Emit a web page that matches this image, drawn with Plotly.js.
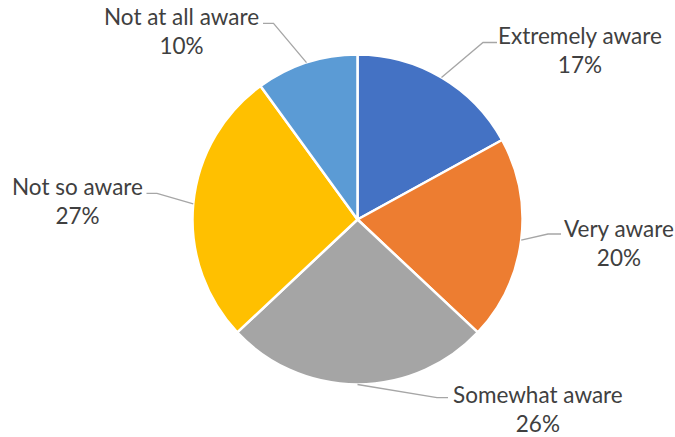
<!DOCTYPE html>
<html>
<head>
<meta charset="utf-8">
<script src="https://cdn.plot.ly/plotly-3.0.1.min.js"></script>
<style>html,body{margin:0;padding:0;background:#fff;}#chart{width:675px;height:437px;}</style>
</head>
<body>
<div id="chart"></div>
<script>
// ---- data ----
const categories = ["Extremely aware", "Very aware", "Somewhat aware", "Not so aware", "Not at all aware"];
const values = [17, 20, 26, 27, 10];
const colors = ["#4472C4", "#ED7D31", "#A5A5A5", "#FFC000", "#5B9BD5"];

// ---- layout constants (pixels) ----
const W = 675, H = 437;
const CX = 357.5, CY = 219.5, R = 165;
// label centre, elbow of leader, and leader end next to text
const labelPos = [
  {x: 580, y: 50, ex: 483, ey: 42.5, tx: 497},
  {x: 619, y: 243, ex: 548, ey: 234, tx: 561},
  {x: 537.5, y: 409, ex: 437, ey: 397.7, tx: 448},
  {x: 77.5, y: 201, ex: 157, ey: 193.3, tx: 146.5},
  {x: 181, y: 31, ex: 273.5, ey: 23.3, tx: 263}
];

const px = v => v / W;
const py = v => 1 - v / H;

const total = values.reduce((a, b) => a + b, 0);
let cum = 0;
const annotations = [];
const shapes = [];
values.forEach((v, i) => {
  const mid = (cum + v / 2) / total * 2 * Math.PI; // clockwise from top
  cum += v;
  const sx = CX + R * Math.sin(mid);
  const sy = CY - R * Math.cos(mid);
  const lp = labelPos[i];
  shapes.push({
    type: "path", xref: "paper", yref: "paper",
    path: `M ${px(sx)},${py(sy)} L ${px(lp.ex)},${py(lp.ey)} L ${px(lp.tx)},${py(lp.ey)}`,
    line: {color: "#A6A6A6", width: 1.3}
  });
  annotations.push({
    xref: "paper", yref: "paper", x: px(lp.x), y: py(lp.y),
    xanchor: "center", yanchor: "middle", showarrow: false, align: "center",
    borderpad: 0,
    text: categories[i] + "<br>" + Math.round(v / total * 100) + "%",
    font: {family: "Lato, 'Liberation Sans', sans-serif", size: 22.5, color: "#404040"}
  });
});

const trace = {
  type: "pie",
  labels: categories,
  values: values,
  sort: false,
  direction: "clockwise",
  rotation: 0,
  textinfo: "none",
  hoverinfo: "label+percent",
  marker: {colors: colors, line: {color: "#FFFFFF", width: 2.5}},
  domain: {x: [(CX - R) / W, (CX + R) / W], y: [1 - (CY + R) / H, 1 - (CY - R) / H]},
  showlegend: false
};

Plotly.newPlot("chart", [trace], {
  width: W, height: H,
  margin: {l: 0, r: 0, t: 0, b: 0},
  paper_bgcolor: "#FFFFFF",
  showlegend: false,
  annotations: annotations,
  shapes: shapes
}, {displayModeBar: false, staticPlot: true});
</script>
</body>
</html>
